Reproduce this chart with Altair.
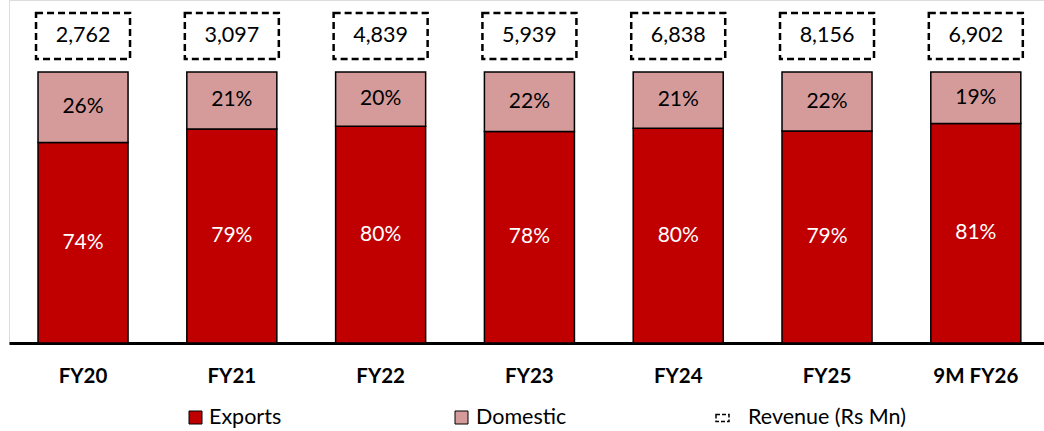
import altair as alt
import pandas as pd

categories = ["FY20", "FY21", "FY22", "FY23", "FY24", "FY25", "9M FY26"]
exports_pct = [74, 79, 80, 78, 80, 79, 81]
domestic_pct = [26, 21, 20, 22, 21, 22, 19]
revenue = [2762, 3097, 4839, 5939, 6838, 8156, 6902]
legend_labels = ["Exports", "Domestic", "Revenue (Rs Mn)"]

EXPORT_COLOR = "#C00000"
DOMESTIC_COLOR = "#D59B9B"
FONT = "Lato"

# Segment table: each bar is normalised to its own total (100% stacked)
rows = []
for cat, e, d in zip(categories, exports_pct, domestic_pct):
    total = e + d
    rows.append({"cat": cat, "series": "Exports", "pct": e,
                 "y0": 0, "y1": e / total, "label": f"{e}%"})
    rows.append({"cat": cat, "series": "Domestic", "pct": d,
                 "y0": e / total, "y1": 1, "label": f"{d}%"})
seg = pd.DataFrame(rows)
seg["mid"] = (seg["y0"] + seg["y1"]) / 2

rev = pd.DataFrame({"cat": categories,
                    "rev_label": [f"{v:,}" for v in revenue]})

x = alt.X("cat:N", sort=categories, title=None,
          scale=alt.Scale(paddingInner=0.395, paddingOuter=0.1754, align=0.556),
          axis=alt.Axis(labelAngle=0, ticks=False, domainColor="black",
                        domainWidth=3, labelFont=FONT, labelFontSize=20.5,
                        labelFontWeight="bold", labelColor="black",
                        labelPadding=23, grid=False))
yscale = alt.Scale(domain=[0, 1], range=[343, 72])

bars = alt.Chart(seg).mark_bar(stroke="black", strokeWidth=1.5).encode(
    x=x,
    y=alt.Y("y0:Q", scale=yscale, axis=None),
    y2="y1:Q",
    color=alt.Color("series:N", legend=None,
                    scale=alt.Scale(domain=["Exports", "Domestic"],
                                    range=[EXPORT_COLOR, DOMESTIC_COLOR])),
)

seg_text = alt.Chart(seg).mark_text(font=FONT, fontSize=21).encode(
    x=alt.X("cat:N", sort=categories),
    y=alt.Y("mid:Q", scale=yscale),
    text="label:N",
    color=alt.Color("series:N", legend=None,
                    scale=alt.Scale(domain=["Exports", "Domestic"],
                                    range=["white", "black"])),
)

boxes = alt.Chart(rev).mark_bar(width=94, fill="white", stroke="black",
                                strokeWidth=2.5, strokeDash=[7, 4]).encode(
    x=alt.X("cat:N", sort=categories),
    y=alt.value(13),
    y2=alt.value(59),
)

box_text = alt.Chart(rev).mark_text(font=FONT, fontSize=21.5, color="black").encode(
    x=alt.X("cat:N", sort=categories),
    y=alt.value(36),
    text="rev_label:N",
)

# Legend drawn below the axis
leg = pd.DataFrame({"label": legend_labels})
LEG_Y = 417.5
sq_ex = alt.Chart(leg.iloc[[0]]).mark_rect(fill=EXPORT_COLOR, stroke="black",
                                           strokeWidth=1).encode(
    x=alt.value(180), x2=alt.value(193), y=alt.value(LEG_Y - 6.5), y2=alt.value(LEG_Y + 6.5))
sq_dom = alt.Chart(leg.iloc[[1]]).mark_rect(fill=DOMESTIC_COLOR, stroke="black",
                                            strokeWidth=1).encode(
    x=alt.value(446), x2=alt.value(459), y=alt.value(LEG_Y - 6.5), y2=alt.value(LEG_Y + 6.5))
sq_rev = alt.Chart(leg.iloc[[2]]).mark_rect(fill="white", stroke="black",
                                            strokeWidth=1.5, strokeDash=[4, 2]).encode(
    x=alt.value(707), x2=alt.value(720), y=alt.value(LEG_Y - 3), y2=alt.value(LEG_Y + 4))

leg_x = {"Exports": 200, "Domestic": 467, "Revenue (Rs Mn)": 739}
leg["lx"] = leg["label"].map(leg_x)
leg_text = alt.Chart(leg).mark_text(font=FONT, fontSize=21.5, align="left",
                                    baseline="middle", color="black").encode(
    x=alt.X("lx:Q", scale=None),
    y=alt.value(LEG_Y),
    text="label:N",
)

chart = alt.layer(bars, seg_text, boxes, box_text, sq_ex, sq_dom, sq_rev, leg_text).resolve_scale(
    color="independent"
).properties(
    width=1035, height=343,
    autosize=alt.AutoSizeParams(type="none"),
    padding={"left": 9, "top": 0, "right": 0, "bottom": 88},
).configure_view(stroke=None).configure(background="white")

chart.save("out.html", embed_options={"renderer": "svg", "actions": False})
